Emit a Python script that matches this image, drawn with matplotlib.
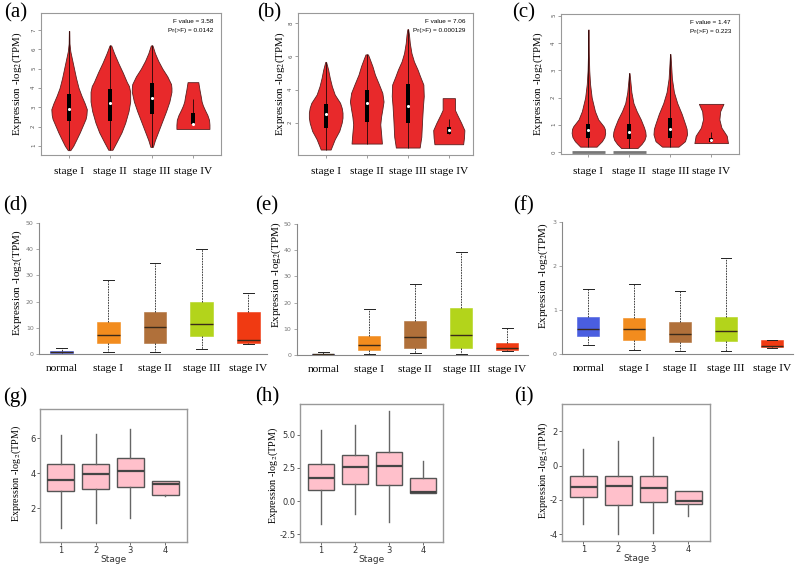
import numpy as np
import matplotlib
matplotlib.use("Agg")
import matplotlib.pyplot as plt

plt.rcParams["axes.unicode_minus"] = False
plt.rcParams["mathtext.fontset"] = "stix"

SERIF = "Liberation Serif"
SANS = "Liberation Sans"
W, H = 799, 577
RED = "#E8292B"
YLAB = "Expression -log$_2$(TPM)"

stages = ["stage I", "stage II", "stage III", "stage IV"]
groups = ["normal", "stage I", "stage II", "stage III", "stage IV"]
stage_nums = ["1", "2", "3", "4"]
group_colors = ["#4A5EE0", "#F28C1E", "#B0703A", "#B3D41B", "#F03A12"]

# ---- row 1: violin outlines (value levels, half widths) and inner boxes
a_y = [[0.78, 1.0, 1.3, 1.7, 2.0, 2.2, 2.4, 2.6, 2.9, 3.2, 3.4, 3.6, 4.0, 4.5, 5.0, 5.5, 5.9, 6.3, 6.95],
       [0.8, 1.2, 1.7, 2.2, 2.5, 2.8, 3.3, 3.8, 4.1, 4.3, 4.8, 5.3, 5.8, 6.2],
       [0.95, 1.3, 1.8, 2.3, 2.8, 3.3, 3.6, 3.8, 4.0, 4.2, 4.6, 5.0, 5.4, 5.8, 6.2],
       [1.88, 2.1, 2.35, 2.6, 2.86, 3.1, 3.3, 3.56, 3.9, 4.3]]
a_w = [[0.03, 0.1, 0.17, 0.26, 0.32, 0.36, 0.40, 0.42, 0.43, 0.38, 0.34, 0.30, 0.23, 0.17, 0.12, 0.07, 0.03, 0.01, 0.005],
       [0.05, 0.15, 0.27, 0.36, 0.40, 0.44, 0.48, 0.48, 0.45, 0.40, 0.30, 0.19, 0.09, 0.02],
       [0.03, 0.08, 0.17, 0.26, 0.35, 0.43, 0.46, 0.48, 0.48, 0.47, 0.38, 0.26, 0.16, 0.08, 0.02],
       [0.40, 0.40, 0.39, 0.35, 0.29, 0.24, 0.21, 0.19, 0.16, 0.13]]
a_lo = [0.78, 0.8, 0.95, 2.12]
a_hi = [6.95, 6.2, 6.2, 3.42]
a_q1 = [2.3, 2.3, 2.65, 2.12]
a_med = [2.9, 3.2, 3.5, 2.16]
a_q3 = [3.7, 3.97, 4.25, 2.69]

b_y = [[0.38, 1.0, 1.5, 2.0, 2.3, 2.6, 2.9, 3.2, 3.7, 4.2, 4.7, 5.2, 5.67],
       [0.74, 1.35, 1.9, 2.37, 2.8, 3.28, 3.8, 4.3, 4.9, 5.4, 5.8, 6.12],
       [0.5, 1.15, 2.16, 3.0, 3.6, 4.3, 4.8, 5.2, 5.7, 6.2, 6.8, 7.3, 7.64],
       [0.7, 1.1, 1.55, 2.0, 2.5, 2.77, 3.1, 3.48]]
b_w = [[0.12, 0.22, 0.33, 0.39, 0.41, 0.41, 0.39, 0.35, 0.22, 0.15, 0.10, 0.06, 0.01],
       [0.37, 0.35, 0.33, 0.35, 0.38, 0.41, 0.38, 0.30, 0.20, 0.14, 0.08, 0.03],
       [0.29, 0.33, 0.35, 0.37, 0.39, 0.38, 0.30, 0.24, 0.15, 0.09, 0.05, 0.03, 0.01],
       [0.35, 0.37, 0.38, 0.30, 0.20, 0.15, 0.15, 0.15]]
b_lo = [0.38, 0.74, 0.5, 1.3]
b_hi = [5.67, 6.12, 7.64, 2.2]
b_q1 = [1.7, 2.06, 1.96, 1.31]
b_med = [2.51, 3.16, 3.03, 1.58]
b_q3 = [3.12, 3.95, 4.33, 1.76]

c_y = [[0.2, 0.4, 0.55, 0.7, 0.85, 0.95, 1.2, 1.5, 2.0, 2.5, 3.0, 3.6, 4.5],
       [0.15, 0.3, 0.45, 0.6, 0.75, 0.9, 1.2, 1.5, 1.8, 2.2, 2.9],
       [0.2, 0.4, 0.65, 0.85, 1.0, 1.4, 1.8, 2.2, 2.7, 3.6],
       [0.33, 0.6, 0.9, 1.2, 1.5, 1.77]]
c_w = [[0.2, 0.33, 0.39, 0.41, 0.40, 0.37, 0.24, 0.16, 0.08, 0.04, 0.02, 0.01, 0.005],
       [0.2, 0.3, 0.37, 0.4, 0.39, 0.36, 0.28, 0.18, 0.10, 0.05, 0.005],
       [0.2, 0.36, 0.41, 0.40, 0.37, 0.28, 0.17, 0.09, 0.04, 0.005],
       [0.41, 0.38, 0.25, 0.2, 0.22, 0.3]]
c_lo = [0.2, 0.15, 0.2, 0.37]
c_hi = [4.5, 2.9, 3.6, 0.74]
c_q1 = [0.53, 0.49, 0.53, 0.37]
c_med = [0.8, 0.74, 0.84, 0.45]
c_q3 = [1.04, 1.02, 1.27, 0.53]
c_zero_w = [0.41, 0.40, 0.0, 0.0]

f_texts = [("F value = 3.58", "Pr(>F) = 0.0142"),
           ("F value = 7.06", "Pr(>F) = 0.000129"),
           ("F value = 1.47", "Pr(>F) = 0.223")]

# ---- row 2: box plots normal + stages
d_q1 = [0.5, 4.4, 4.4, 7.1, 4.2]
d_med = [0.9, 7.3, 10.4, 11.5, 5.3]
d_q3 = [1.3, 12.4, 16.0, 19.9, 16.0]
d_lo = [0.1, 0.8, 0.8, 1.9, 3.8]
d_hi = [2.5, 28.1, 34.7, 40.1, 23.4]

e_q1 = [0.15, 1.9, 2.9, 2.9, 1.9]
e_med = [0.35, 3.9, 7.0, 7.6, 2.8]
e_q3 = [0.6, 7.3, 13.0, 18.0, 4.6]
e_lo = [0.0, 0.4, 0.8, 0.5, 1.5]
e_hi = [1.1, 17.6, 27.0, 39.1, 10.4]

f_q1 = [0.42, 0.33, 0.27, 0.30, 0.16]
f_med = [0.58, 0.56, 0.45, 0.52, 0.18]
f_q3 = [0.84, 0.81, 0.74, 0.85, 0.31]
f_lo = [0.21, 0.08, 0.07, 0.07, 0.13]
f_hi = [1.48, 1.6, 1.44, 2.19, 0.32]

# ---- row 3: box plots by stage number
g_q1 = [3.01, 3.09, 3.22, 2.74]
g_med = [3.62, 3.96, 4.15, 3.37]
g_q3 = [4.51, 4.53, 4.9, 3.58]
g_lo = [0.9, 1.14, 1.43, 2.69]
g_hi = [6.19, 6.23, 6.51, 3.58]

h_q1 = [0.83, 1.28, 1.19, 0.6]
h_med = [1.77, 2.6, 2.68, 0.65]
h_q3 = [2.78, 3.48, 3.71, 1.72]
h_lo = [-1.74, -0.98, -1.56, 0.6]
h_hi = [5.37, 5.75, 6.83, 3.0]

i_q1 = [-1.83, -2.32, -2.14, -2.22]
i_med = [-1.23, -1.17, -1.31, -2.07]
i_q3 = [-0.62, -0.62, -0.62, -1.5]
i_lo = [-3.41, -4.02, -3.96, -2.92]
i_hi = [0.97, 1.46, 1.7, -1.5]

fig = plt.figure(figsize=(W / 100, H / 100), dpi=100)


def add_ax(l, t, r, b):
    return fig.add_axes([l / W, 1 - b / H, (r - l) / W, (b - t) / H])


def stats_list(q1, med, q3, lo, hi):
    return [dict(q1=q1[k], med=med[k], q3=q3[k], whislo=lo[k], whishi=hi[k])
            for k in range(len(med))]


def violin_panel(ax, ys, ws, lo, hi, q1, med, q3, ftxt, xlim, ylim, yticks, zero_w=None):
    for k in range(4):
        pos = k + 1
        y = np.array(ys[k])
        w = np.array(ws[k])
        ax.fill_betweenx(y, pos - w, pos + w, facecolor=RED, edgecolor="#5a2020",
                         lw=0.6, zorder=2)
        ax.vlines(pos, lo[k], hi[k], color="#3a0c0c", lw=0.7, zorder=3)
        ax.bar(pos, q3[k] - q1[k], bottom=q1[k], width=0.1, color="k", zorder=4)
        ax.scatter([pos], [med[k]], s=5, c="white", linewidths=0, zorder=5)
        if zero_w is not None and zero_w[k] > 0:
            ax.hlines(0, pos - zero_w[k], pos + zero_w[k], color="#777777", lw=2, zorder=3)
    ax.set_xlim(*xlim)
    ax.set_ylim(*ylim)
    ax.set_yticks(yticks)
    ax.set_xticks([1, 2, 3, 4])
    ax.set_xticklabels(stages, fontfamily=SERIF, fontsize=8.2)
    ax.tick_params(axis="x", length=2, width=0.5, color="#777", pad=7)
    ax.tick_params(axis="y", length=2, width=0.5, color="#777", labelsize=4,
                   labelcolor="#555", labelrotation=90, pad=1.5)
    for s in ax.spines.values():
        s.set_color("#999999")
        s.set_linewidth(0.8)
    ax.text(0.955, 0.94, ftxt[0], transform=ax.transAxes, ha="right", va="center",
            fontsize=4.6, fontfamily=SANS)
    ax.text(0.955, 0.875, ftxt[1], transform=ax.transAxes, ha="right", va="center",
            fontsize=4.6, fontfamily=SANS)


def box_panel(ax, q1, med, q3, lo, hi, xlim, yticks):
    bp = ax.bxp(stats_list(q1, med, q3, lo, hi), positions=range(5), widths=0.48,
                patch_artist=True, showfliers=False, capwidths=0.23,
                boxprops=dict(lw=0.4),
                whiskerprops=dict(ls=(0, (2, 1.2)), lw=0.6, color="#222"),
                capprops=dict(lw=0.7, color="#222"),
                medianprops=dict(color="#3a2a1a", lw=1))
    for patch, c in zip(bp["boxes"], group_colors):
        patch.set_facecolor(c)
        patch.set_edgecolor(c)
    ax.set_xlim(*xlim)
    ax.set_ylim(yticks[0], yticks[-1])
    ax.set_yticks(yticks)
    ax.set_xticks(range(5))
    ax.set_xticklabels(groups, fontfamily=SERIF, fontsize=8.2)
    ax.tick_params(axis="x", length=0, pad=7)
    ax.tick_params(axis="y", length=2, width=0.5, color="#888", labelsize=4.5,
                   labelcolor="#777", pad=2)
    ax.spines["top"].set_visible(False)
    ax.spines["right"].set_visible(False)
    for s in ("left", "bottom"):
        ax.spines[s].set_color("#888888")
        ax.spines[s].set_linewidth(0.8)


def stage_panel(ax, q1, med, q3, lo, hi, xlim, ylim, yticks):
    ax.bxp(stats_list(q1, med, q3, lo, hi), positions=[1, 2, 3, 4], widths=0.76,
           patch_artist=True, showfliers=False, showcaps=False,
           boxprops=dict(facecolor="#FFC0CB", edgecolor="#555", lw=1),
           whiskerprops=dict(color="#666", lw=1),
           medianprops=dict(color="#444", lw=1.6))
    ax.set_xlim(*xlim)
    ax.set_ylim(*ylim)
    ax.set_yticks(yticks)
    ax.set_xticks([1, 2, 3, 4])
    ax.set_xticklabels(stage_nums)
    ax.set_xlabel("Stage", fontsize=6.5, color="#333", labelpad=0)
    ax.tick_params(length=2, width=0.6, color="#555", labelsize=6,
                   labelcolor="#333", pad=1)
    for s in ax.spines.values():
        s.set_color("#999999")
        s.set_linewidth(1)


# row 1
ax_a = add_ax(41, 13, 221, 155)
violin_panel(ax_a, a_y, a_w, a_lo, a_hi, a_q1, a_med, a_q3, f_texts[0],
             (0.32, 4.68), (0.53, 7.88), [1, 2, 3, 4, 5, 6, 7])
ax_b = add_ax(298, 13, 473, 155)
violin_panel(ax_b, b_y, b_w, b_lo, b_hi, b_q1, b_med, b_q3, f_texts[1],
             (0.325, 4.59), (0.05, 8.62), [2, 4, 6, 8])
ax_c = add_ax(561, 14, 739, 154)
violin_panel(ax_c, c_y, c_w, c_lo, c_hi, c_q1, c_med, c_q3, f_texts[2],
             (0.33, 4.68), (-0.07, 5.07), [0, 1, 2, 3, 4, 5], zero_w=c_zero_w)

# row 2
ax_d = add_ax(39.3, 222.7, 267, 354.3)
box_panel(ax_d, d_q1, d_med, d_q3, d_lo, d_hi, (-0.48, 4.4), [0, 10, 20, 30, 40, 50])
ax_e = add_ax(296.7, 223.7, 528, 355.3)
box_panel(ax_e, e_q1, e_med, e_q3, e_lo, e_hi, (-0.58, 4.45), [0, 10, 20, 30, 40, 50])
ax_f = add_ax(562.3, 222.3, 793, 354)
box_panel(ax_f, f_q1, f_med, f_q3, f_lo, f_hi, (-0.57, 4.46), [0, 1, 2, 3])

# row 3
ax_g = add_ax(40, 409.3, 186.7, 541.7)
stage_panel(ax_g, g_q1, g_med, g_q3, g_lo, g_hi, (0.41, 4.61), (0.09, 7.66), [2, 4, 6])
ax_h = add_ax(300, 404.3, 443.3, 542.3)
stage_panel(ax_h, h_q1, h_med, h_q3, h_lo, h_hi, (0.39, 4.6), (-3.12, 7.31),
            [-2.5, 0.0, 2.5, 5.0])
ax_h.set_yticklabels(["-2.5", "0.0", "2.5", "5.0"])
ax_i = add_ax(562.3, 404.3, 710, 540.7)
stage_panel(ax_i, i_q1, i_med, i_q3, i_lo, i_hi, (0.4, 4.62), (-4.39, 3.59), [-4, -2, 0, 2])

# y labels
for x, y, fs in [(17, 84, 7.8), (280, 84, 7.8), (538, 84, 7.8),
                 (17, 283, 8), (276, 275, 8), (543, 276, 8),
                 (16, 473, 7.3), (273, 475, 7.3), (543, 470, 7.3)]:
    fig.text(x / W, 1 - y / H, YLAB, rotation=90, ha="center", va="center",
             fontsize=fs, fontfamily=SERIF)

# panel letters
for lab, x, y in [("(a)", 4, 13), ("(b)", 257, 13), ("(c)", 512, 13),
                  ("(d)", 3, 206), ("(e)", 255, 206), ("(f)", 513, 206),
                  ("(g)", 3, 397), ("(h)", 255, 397), ("(i)", 514, 397)]:
    fig.text(x / W, 1 - y / H, lab, ha="left", va="center", fontsize=15,
             fontfamily=SERIF)

fig.savefig("out.png", dpi=100)
